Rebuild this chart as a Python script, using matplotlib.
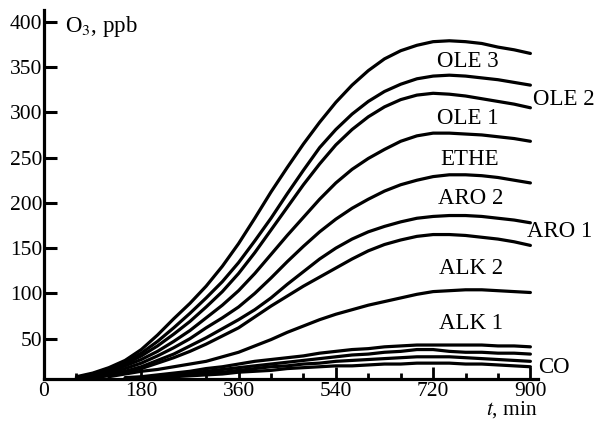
import numpy as np
import matplotlib
matplotlib.use('Agg')
import matplotlib.pyplot as plt
from matplotlib.ticker import MultipleLocator

plt.rcParams['font.family'] = ['Liberation Serif', 'DejaVu Serif']
plt.rcParams['mathtext.fontset'] = 'stix'

nan = np.nan
t = list(range(60, 901, 30))

ole3 = [8, 12, 18, 26, 38, 54, 72, 89, 108, 130, 155, 183, 212, 239, 265,
        289, 311, 330, 346, 359, 368, 374, 378, 379, 378, 376, 372, 369, 365]
ole2 = [7, 11, 17, 24, 34, 47, 62, 78, 95, 113, 134, 158, 183, 210, 236,
        261, 281, 298, 312, 323, 331, 337, 340, 341, 340, 338, 336, 333, 330]
ole1 = [7, 11, 16, 22, 31, 42, 55, 69, 85, 102, 122, 145, 170, 195, 220,
        243, 264, 281, 295, 306, 314, 319, 321, 320, 318, 315, 312, 309, 305]
ethe = [6, 10, 14, 20, 27, 36, 47, 59, 73, 87, 103, 122, 143, 164, 184,
        204, 222, 237, 249, 259, 268, 274, 277, 277, 276, 275, 273, 271, 268]
aro2 = [6, 9, 12, 17, 23, 31, 40, 50, 62, 73, 85, 100, 117, 135, 152,
        168, 182, 194, 204, 213, 220, 225, 229, 231, 231, 230, 228, 225, 222]
aro1 = [5, 7, 10, 14, 19, 26, 33, 42, 51, 61, 71, 82, 95, 110, 124,
        138, 150, 160, 168, 174, 179, 183, 185, 186, 186, 185, 183, 181, 178]
alk2 = [5, 7, 9, 13, 17, 23, 29, 36, 44, 53, 62, 74, 86, 97, 108,
        118, 128, 138, 147, 154, 159, 163, 165, 165, 164, 162, 160, 157, 153]
alk1 = [nan, nan, 8, 11, 14, 16, 19, 22, 25, 30, 35, 42, 49, 57, 64,
        71, 77, 82, 87, 91, 95, 99, 102, 103, 104, 104, 103, 102, 101]
low1 = [nan, nan, nan, 7, 8, 10, 12, 14, 17, 19, 22, 25, 27, 29, 31,
        34, 36, 38, 39, 41, 42, 43, 43, 43, 43, 43, 42, 42, 41]
low2 = [nan, nan, nan, 6, 7, 8, 10, 12, 14, 16, 18, 20, 22, 24, 26,
        28, 30, 32, 33, 35, 36, 38, 38, 36, 35, 35, 34, 34, 33]
low3 = [nan, nan, nan, nan, 6, 7, 9, 10, 12, 13, 15, 17, 19, 20, 22,
        23, 25, 26, 27, 28, 29, 30, 30, 30, 29, 28, 27, 26, 25]
co = [nan, nan, nan, nan, 5, 6, 8, 9, 10, 11, 13, 14, 15, 17, 18,
      19, 20, 20, 21, 22, 22, 23, 23, 23, 22, 22, 21, 20, 19]

series = [ole3, ole2, ole1, ethe, aro2, aro1, alk2, alk1, low1, low2, low3, co]

# label text and where it sits (t, ppb)
labels = ['OLE 3', 'OLE 2', 'OLE 1', 'ETHE', 'ARO 2', 'ARO 1', 'ALK 2', 'ALK 1', 'CO']
label_t = [785, 904, 785, 787, 790, 894, 790, 790, 915]
label_y = [356, 314, 293, 248, 205, 168, 128, 67, 18]
label_ha = ['center', 'left', 'center', 'center', 'center', 'left', 'center', 'center', 'left']

fig = plt.figure(figsize=(5.98, 4.21), dpi=100)
ax = fig.add_axes([0.0736, 0.0998, 0.826, 0.8765])

for s in series:
    ax.plot(t, s, color='black', lw=2.3, solid_capstyle='round')

for txt, x, y, ha in zip(labels, label_t, label_y, label_ha):
    ax.text(x, y, txt, ha=ha, va='center', fontsize=16.5)

ax.text(39, 395, 'O$_3$, ppb', ha='left', va='center', fontsize=16.5)
ax.annotate('$t$, min', xy=(817, 0.028), xycoords=('data', 'figure fraction'),
            ha='left', va='center', fontsize=15.5)

ax.set_xlim(0, 914)
ax.set_ylim(5.5, 413)
ax.xaxis.set_major_locator(MultipleLocator(180))
ax.xaxis.set_minor_locator(MultipleLocator(60))
ax.set_yticks([50, 100, 150, 200, 250, 300, 350, 400])

ax.spines['top'].set_visible(False)
ax.spines['right'].set_visible(False)
for side in ['left', 'bottom']:
    ax.spines[side].set_linewidth(2.3)

ax.tick_params(axis='x', which='major', direction='in', length=9, width=2, labelsize=15.5, pad=2)
ax.tick_params(axis='x', which='minor', direction='in', length=4.5, width=2)
ax.tick_params(axis='y', which='major', direction='in', length=9, width=2.2, labelsize=15.5, pad=1)

plt.savefig('out.png', dpi=100)
